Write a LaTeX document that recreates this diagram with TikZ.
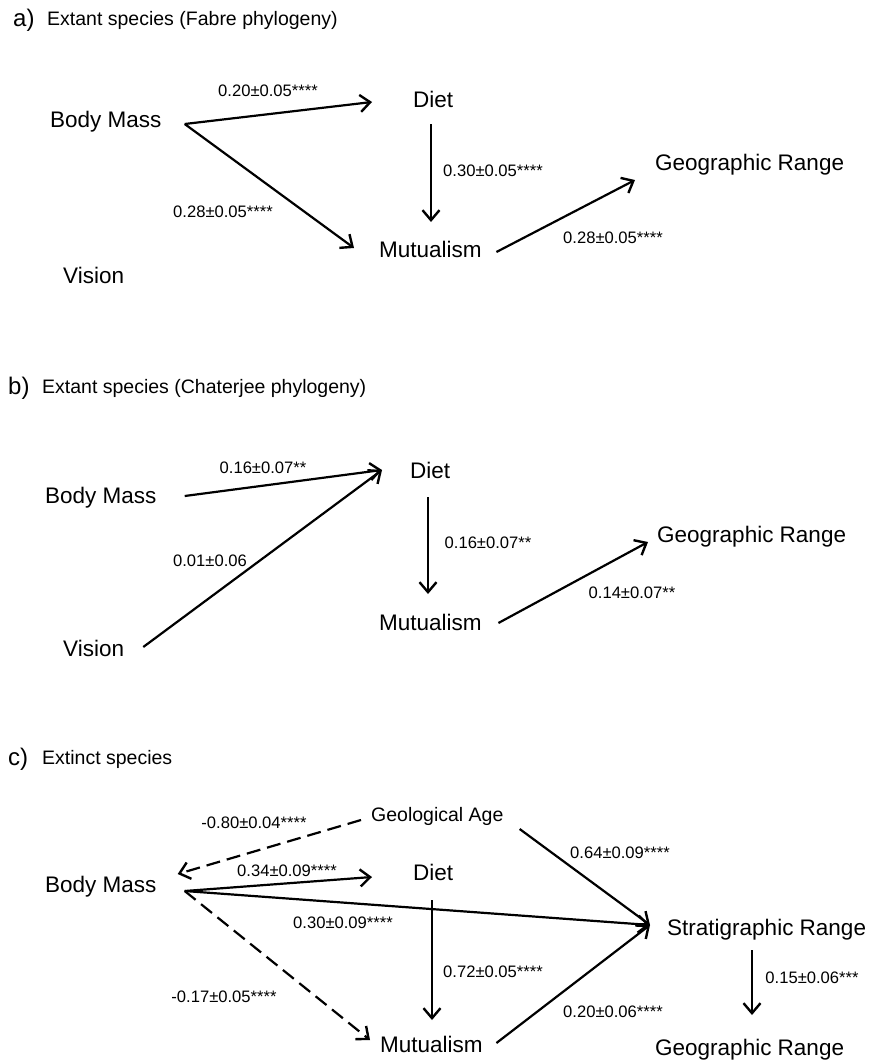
\documentclass[tikz,border=0pt]{standalone}
\usepackage{fontspec}
\setmainfont{Liberation Sans}
\usetikzlibrary{arrows.meta}
\begin{document}
\begin{tikzpicture}[x=1pt,y=-1pt,
  var/.style={font=\fontsize{22.5}{27}\selectfont, inner sep=0pt, anchor=base west},
  varsm/.style={font=\fontsize{19.5}{23}\selectfont, inner sep=0pt, anchor=base west},
  lbl/.style={font=\fontsize{16.6}{20}\selectfont, inner sep=0pt},
  plet/.style={font=\fontsize{24}{28}\selectfont, inner sep=0pt, anchor=base west},
  ptitle/.style={font=\fontsize{19.5}{23}\selectfont, inner sep=0pt, anchor=base west},
  arr/.style={line width=2.2pt, -{Straight Barb[length=10pt,width=17pt,line width=2.4pt]}},
  darr/.style={arr, dash pattern=on 14pt off 7pt}]
\useasboundingbox (0,0) rectangle (873,1060);

% ---------- panel a ----------
\node[plet] (la) at (13,26) {a)};
\node[ptitle] (ta) at (47,25) {Extant species (Fabre phylogeny)};
\node[var] (bmA) at (50,127) {Body Mass};
\node[var] (dietA) at (413,107) {Diet};
\node[var] (mutA) at (379,257) {Mutualism};
\node[var] (geoA) at (655,170) {Geographic Range};
\node[var] (visA) at (63,283) {Vision};

\draw[arr] ([shift={(23,-3)}]bmA.base east) -- ([shift={(-41,-5)}]dietA.base west);
\draw[arr] ([shift={(23,-3)}]bmA.base east) -- ([shift={(-25,-9)}]mutA.base west);
\draw[arr] ([shift={(18,17)}]dietA.base west) -- ([shift={(52,-35)}]mutA.base west);
\draw[arr] ([shift={(14.5,-5)}]mutA.base east) -- ([shift={(-20,10)}]geoA.base west);

\node[lbl] (a1) at (268,91) {0.20±0.05****};
\node[lbl] (a2) at (223,212) {0.28±0.05****};
\node[lbl] (a3) at (493,171) {0.30±0.05****};
\node[lbl] (a4) at (613,238) {0.28±0.05****};

% ---------- panel b ----------
\node[plet] (lb) at (8,394) {b)};
\node[ptitle] (tb) at (42,393) {Extant species (Chaterjee phylogeny)};
\node[var] (bmB) at (45,503) {Body Mass};
\node[var] (dietB) at (410,478) {Diet};
\node[var] (visB) at (63,656) {Vision};
\node[var] (mutB) at (379,630) {Mutualism};
\node[var] (geoB) at (657,542) {Geographic Range};

\draw[arr] ([shift={(28,-7)}]bmB.base east) -- ([shift={(-28,-8)}]dietB.base west);
\draw[arr] ([shift={(19,-9)}]visB.base east) -- ([shift={(-28,-8)}]dietB.base west);
\draw[arr] ([shift={(18,19)}]dietB.base west) -- ([shift={(49,-36)}]mutB.base west);
\draw[arr] ([shift={(16.5,-7)}]mutB.base east) -- ([shift={(-9,0)}]geoB.base west);

\node[lbl] (b1) at (263,468) {0.16±0.07**};
\node[lbl] (b2) at (210,561) {0.01±0.06};
\node[lbl] (b3) at (488,543) {0.16±0.07**};
\node[lbl] (b4) at (632,593) {0.14±0.07**};

% ---------- panel c ----------
\node[plet] (lc) at (8,765) {c)};
\node[ptitle] (tc) at (42,764) {Extinct species};
\node[varsm] (ageC) at (371,821) {Geological Age};
\node[var] (bmC) at (45,892) {Body Mass};
\node[var] (dietC) at (413,880) {Diet};
\node[var] (mutC) at (380,1052) {Mutualism};
\node[var] (stratC) at (667,935) {Stratigraphic Range};
\node[var] (geoC) at (655,1055) {Geographic Range};

\draw[darr] ([shift={(-10,-1)}]ageC.base west) -- ([shift={(21,-18)}]bmC.base east);
\draw[arr] ([shift={(28,-1)}]bmC.base east) -- ([shift={(-41,-3)}]dietC.base west);
\draw[arr] ([shift={(28,-1)}]bmC.base east) -- ([shift={(-17,-10)}]stratC.base west);
\draw[darr] ([shift={(28,-1)}]bmC.base east) -- ([shift={(-10,-12)}]mutC.base west);
\draw[arr] ([shift={(19,20)}]dietC.base west) -- ([shift={(52,-32)}]mutC.base west);
\draw[arr] ([shift={(16,8)}]ageC.base east) -- ([shift={(-17,-10)}]stratC.base west);
\draw[arr] ([shift={(13.5,-9)}]mutC.base east) -- ([shift={(-17,-10)}]stratC.base west);
\draw[arr] ([shift={(85,15)}]stratC.base west) -- ([shift={(97,-40)}]geoC.base west);

\node[lbl] (c1) at (254,823) {-0.80±0.04****};
\node[lbl] (c2) at (287,871) {0.34±0.09****};
\node[lbl] (c3) at (343,923) {0.30±0.09****};
\node[lbl] (c4) at (224,997) {-0.17±0.05****};
\node[lbl] (c5) at (620,853) {0.64±0.09****};
\node[lbl] (c6) at (493,972) {0.72±0.05****};
\node[lbl] (c7) at (613,1012) {0.20±0.06****};
\node[lbl] (c8) at (812,978) {0.15±0.06***};
\end{tikzpicture}
\end{document}
